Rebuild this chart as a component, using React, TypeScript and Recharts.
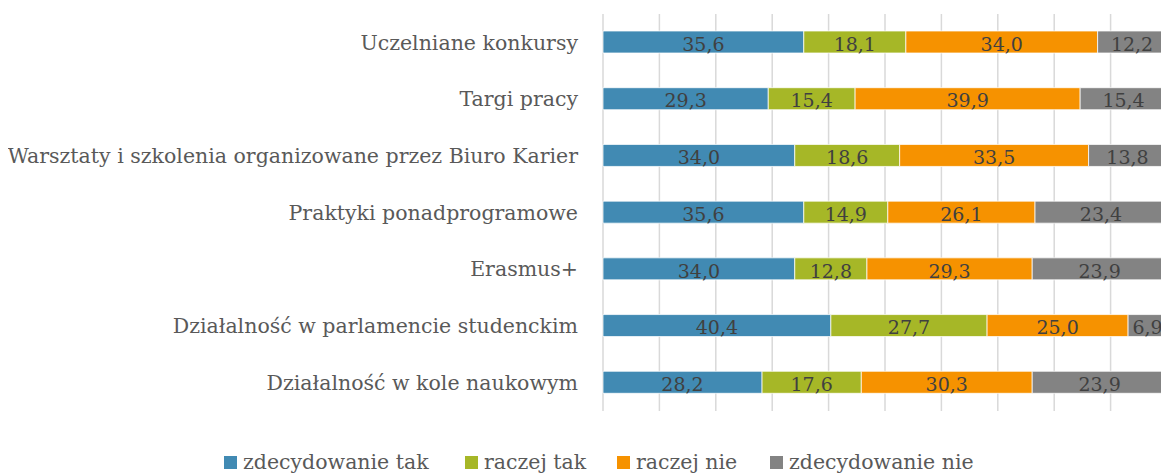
import React from "react";
import {
  BarChart,
  Bar,
  XAxis,
  YAxis,
  CartesianGrid,
  LabelList,
  Legend,
} from "recharts";

const categories = [
  "Uczelniane konkursy",
  "Targi pracy",
  "Warsztaty i szkolenia organizowane przez Biuro Karier",
  "Praktyki ponadprogramowe",
  "Erasmus+",
  "Działalność w parlamencie studenckim",
  "Działalność w kole naukowym",
];

const zdecydowanieTak = [35.6, 29.3, 34.0, 35.6, 34.0, 40.4, 28.2];
const raczejTak = [18.1, 15.4, 18.6, 14.9, 12.8, 27.7, 17.6];
const raczejNie = [34.0, 39.9, 33.5, 26.1, 29.3, 25.0, 30.3];
const zdecydowanieNie = [12.2, 15.4, 13.8, 23.4, 23.9, 6.9, 23.9];

const xTicks = [0, 10, 20, 30, 40, 50, 60, 70, 80, 90, 100];

const seriesNames = ["zdecydowanie tak", "raczej tak", "raczej nie", "zdecydowanie nie"];
const seriesKeys = ["s1", "s2", "s3", "s4"];
const seriesColors = ["#418AB3", "#A6B727", "#F69200", "#838383"];
const legendLefts = [216, 457, 609, 762];

const data = categories.map((name, i) => ({
  name,
  s1: zdecydowanieTak[i],
  s2: raczejTak[i],
  s3: raczejNie[i],
  s4: zdecydowanieNie[i],
}));

const FONT = "'DejaVu Serif', serif";

const fmt = (v: any) => Number(v).toFixed(1).replace(".", ",");

const LegendContent = () => (
  <div style={{ position: "relative", width: 1159, height: 63 }}>
    {seriesNames.map((n, i) => (
      <div
        key={n}
        style={{
          position: "absolute",
          left: legendLefts[i],
          top: 40,
          height: 22,
          display: "flex",
          alignItems: "center",
          whiteSpace: "nowrap",
          fontFamily: FONT,
          fontSize: 20.5,
          color: "#595959",
        }}
      >
        <span
          style={{
            display: "inline-block",
            width: 13,
            height: 13,
            background: seriesColors[i],
            marginRight: 6,
          }}
        />
        <span>{n}</span>
      </div>
    ))}
  </div>
);

export default function App() {
  return (
    <div style={{ width: 1153, height: 466, overflow: "hidden", position: "relative" }}>
      <style>{"html,body{overflow:hidden;} body{margin:8px 0 0 8px;}"}</style>
      <BarChart
        width={1165}
        height={466}
        data={data}
        layout="vertical"
        margin={{ top: 6, right: 6, bottom: 0, left: 0 }}
        barSize={22}
      >
        <CartesianGrid
          horizontal={false}
          vertical={true}
          stroke="#d9d9d9"
          strokeWidth={1.5}
        />
        <XAxis type="number" domain={[0, 100]} ticks={xTicks} hide />
        <YAxis
          type="category"
          dataKey="name"
          width={595}
          axisLine={false}
          tickLine={false}
          tickSize={0}
          tickMargin={25}
          interval={0}
          tick={{ fill: "#595959", fontSize: 20.5, fontFamily: FONT }}
        />
        <Legend
          verticalAlign="bottom"
          content={<LegendContent />}
          wrapperStyle={{ left: 0, width: 1159 }}
        />
        {seriesKeys.map((k, i) => (
          <Bar
            key={k}
            dataKey={k}
            name={seriesNames[i]}
            stackId="a"
            fill={seriesColors[i]}
            stroke="#ffffff"
            strokeWidth={0.75}
            isAnimationActive={false}
          >
            <LabelList
              dataKey={k}
              position="center"
              formatter={fmt}
              fill="#404040"
              fontSize={19}
              fontFamily={FONT}
              dy={2}
            />
          </Bar>
        ))}
      </BarChart>
    </div>
  );
}
